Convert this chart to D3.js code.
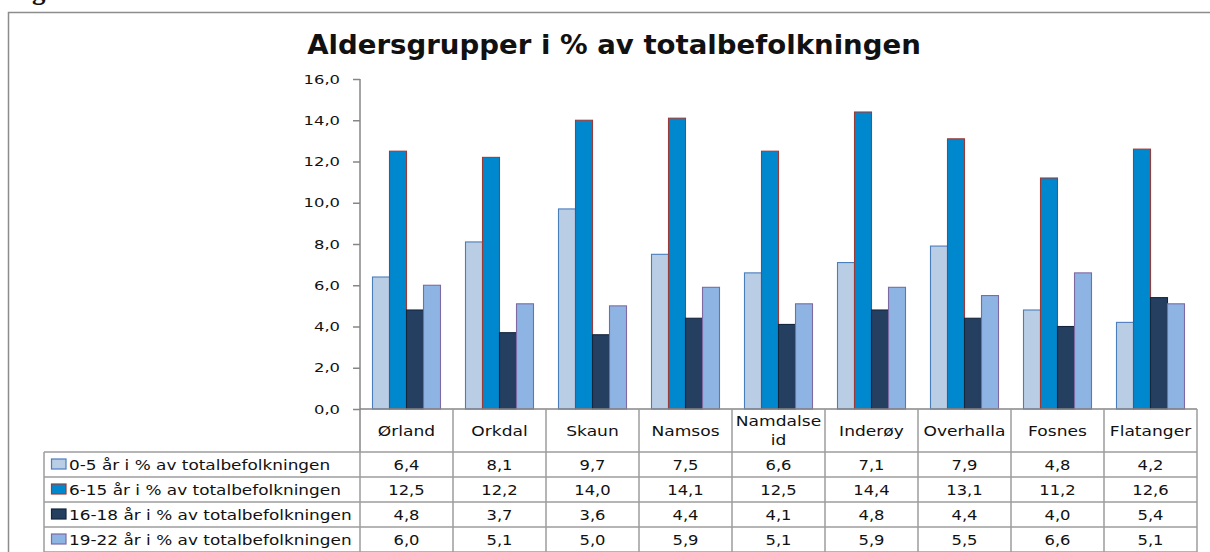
<!DOCTYPE html>
<html>
<head>
<meta charset="utf-8">
<script src="https://cdn.jsdelivr.net/npm/d3@7"></script>
<style>
  html, body { margin: 0; padding: 0; background: #fff; }
  svg { display: block; }
  text { font-family: "DejaVu Sans", Verdana, sans-serif; fill: #111; }
</style>
</head>
<body>
<svg id="chart" width="1210" height="552"></svg>
<script>
// Kommuner (kategorier)
const categories = ["Ørland", "Orkdal", "Skaun", "Namsos", "Namdalseid", "Inderøy", "Overhalla", "Fosnes", "Flatanger"];

// Serienavn
const seriesNames = [
  "0-5 år i % av totalbefolkningen",
  "6-15 år i % av totalbefolkningen",
  "16-18 år i % av totalbefolkningen",
  "19-22 år i % av totalbefolkningen"
];

// Andel per aldersgruppe (%)
const age0to5   = [6.4, 8.1, 9.7, 7.5, 6.6, 7.1, 7.9, 4.8, 4.2];
const age6to15  = [12.5, 12.2, 14.0, 14.1, 12.5, 14.4, 13.1, 11.2, 12.6];
const age16to18 = [4.8, 3.7, 3.6, 4.4, 4.1, 4.8, 4.4, 4.0, 5.4];
const age19to22 = [6.0, 5.1, 5.0, 5.9, 5.1, 5.9, 5.5, 6.6, 5.1];

// Verdiakse
const yTicks = [0, 2, 4, 6, 8, 10, 12, 14, 16];

const seriesValues = [age0to5, age6to15, age16to18, age19to22];
const fills   = ["#B9CDE5", "#0088CF", "#243F60", "#8EB4E3"];
const strokes = ["#4A7EBB", "#9B3B38", "#14263D", "#7E6AA3"];

const fmt = v => d3.format(".1f")(v).replace(".", ",");

const svg = d3.select("#chart");

// Layout
const plotLeft = 360, plotRight = 1197, plotTop = 79, plotBottom = 409;
const tableLeft = 44;
const headerBottom = 452;
const rowH = 25;
const gridColor = "#9c9c9c";

const x0 = d3.scaleBand().domain(categories).range([plotLeft, plotRight]).paddingInner(0).paddingOuter(0);
const x1 = d3.scaleBand().domain(d3.range(seriesValues.length)).range([0, x0.bandwidth()]).paddingInner(0).paddingOuter(0.735);
const y = d3.scaleLinear().domain([0, 16]).range([plotBottom, plotTop]);

// Outer frame (top and left edges)
svg.append("path")
  .attr("d", `M8.5,552 L8.5,12.5 L1210,12.5`)
  .attr("fill", "none").attr("stroke", "#8c8c8c").attr("stroke-width", 1.5);

// Figure caption, mostly above the visible area
svg.append("text")
  .attr("x", 8).attr("y", -1)
  .style("font-family", "'Liberation Serif', serif")
  .style("font-weight", "bold").style("font-size", "27px")
  .text("Figur");

// Title
const title = svg.append("text")
  .attr("text-anchor", "middle")
  .style("font-weight", "bold").style("font-size", "26px")
  .text("Aldersgrupper i % av totalbefolkningen");
{
  const w = title.node().getComputedTextLength();
  const sx = 614 / w;
  title.attr("transform", `translate(614,54) scale(${sx},1)`);
}

// Bars
const groups = svg.append("g").selectAll("g")
  .data(categories)
  .join("g")
  .attr("transform", d => `translate(${x0(d)},0)`);

groups.selectAll("rect")
  .data((d, i) => seriesValues.map((vals, s) => ({ s, v: vals[i] })))
  .join("rect")
  .attr("x", d => x1(d.s))
  .attr("width", x1.bandwidth())
  .attr("y", d => y(d.v))
  .attr("height", d => y(0) - y(d.v))
  .attr("fill", d => fills[d.s])
  .attr("stroke", d => strokes[d.s])
  .attr("stroke-width", 1.1);

// Y axis
const tickSx = 1.26;
const yAxis = svg.append("g")
  .attr("transform", `translate(${plotLeft},0)`)
  .call(d3.axisLeft(y).tickValues(yTicks).tickSize(7).tickSizeOuter(0).tickFormat(fmt));
yAxis.select(".domain").remove();
yAxis.selectAll(".tick line").attr("stroke", "#868686").attr("stroke-width", 1.5);
yAxis.selectAll(".tick text")
  .attr("x", -20 / tickSx)
  .attr("transform", `scale(${tickSx},1)`)
  .style("font-family", "'DejaVu Sans', Verdana, sans-serif")
  .style("font-size", "13px").attr("fill", "#111");

// Axis lines
svg.append("line")
  .attr("x1", plotLeft).attr("x2", plotLeft)
  .attr("y1", plotTop).attr("y2", headerBottom)
  .attr("stroke", "#868686").attr("stroke-width", 1.5);
svg.append("line")
  .attr("x1", plotLeft).attr("x2", plotRight)
  .attr("y1", plotBottom).attr("y2", plotBottom)
  .attr("stroke", "#868686").attr("stroke-width", 1.5);

// Data table grid
const tableBottom = headerBottom + rowH * seriesNames.length;
const grid = svg.append("g").attr("stroke", gridColor).attr("stroke-width", 1.5);
categories.forEach(c => {
  grid.append("line")
    .attr("x1", x0(c) + x0.bandwidth()).attr("x2", x0(c) + x0.bandwidth())
    .attr("y1", plotBottom).attr("y2", tableBottom);
});
grid.append("line")
  .attr("x1", plotLeft).attr("x2", plotLeft)
  .attr("y1", headerBottom).attr("y2", tableBottom);
grid.append("line")
  .attr("x1", tableLeft).attr("x2", tableLeft)
  .attr("y1", headerBottom).attr("y2", tableBottom);
for (let r = 0; r <= seriesNames.length; r++) {
  grid.append("line")
    .attr("x1", tableLeft).attr("x2", plotRight)
    .attr("y1", headerBottom + r * rowH).attr("y2", headerBottom + r * rowH);
}

// Category header labels (long names wrap onto two lines)
const catSx = 1.22;
categories.forEach(c => {
  const cx = x0(c) + x0.bandwidth() / 2;
  const lines = c.length > 9 ? [c.slice(0, 8), c.slice(8)] : [c];
  const t = svg.append("text")
    .attr("text-anchor", "middle")
    .style("font-size", "14px")
    .attr("transform", `translate(${cx},0) scale(${catSx},1)`);
  if (lines.length === 1) {
    t.append("tspan").attr("x", 0).attr("y", 436).text(lines[0]);
  } else {
    t.append("tspan").attr("x", 0).attr("y", 426).text(lines[0]);
    t.append("tspan").attr("x", 0).attr("y", 445).text(lines[1]);
  }
});

// Legend rows with value cells
const cellSx = 1.17;
seriesNames.forEach((name, s) => {
  const rowTop = headerBottom + s * rowH;
  const base = rowTop + rowH / 2 + 5.5;
  svg.append("rect")
    .attr("x", 51.5).attr("y", rowTop + rowH / 2 - 5.5)
    .attr("width", 14.5).attr("height", 10)
    .attr("fill", fills[s]).attr("stroke", strokes[s]).attr("stroke-width", 1.2);
  svg.append("text")
    .attr("transform", `translate(69,${base}) scale(1.165,1)`)
    .style("font-size", "14.5px")
    .text(name);
  seriesValues[s].forEach((v, i) => {
    const cx = x0(categories[i]) + x0.bandwidth() / 2;
    svg.append("text")
      .attr("text-anchor", "middle")
      .attr("transform", `translate(${cx},${base}) scale(${cellSx},1)`)
      .style("font-size", "14px")
      .text(fmt(v));
  });
});
</script>
</body>
</html>
